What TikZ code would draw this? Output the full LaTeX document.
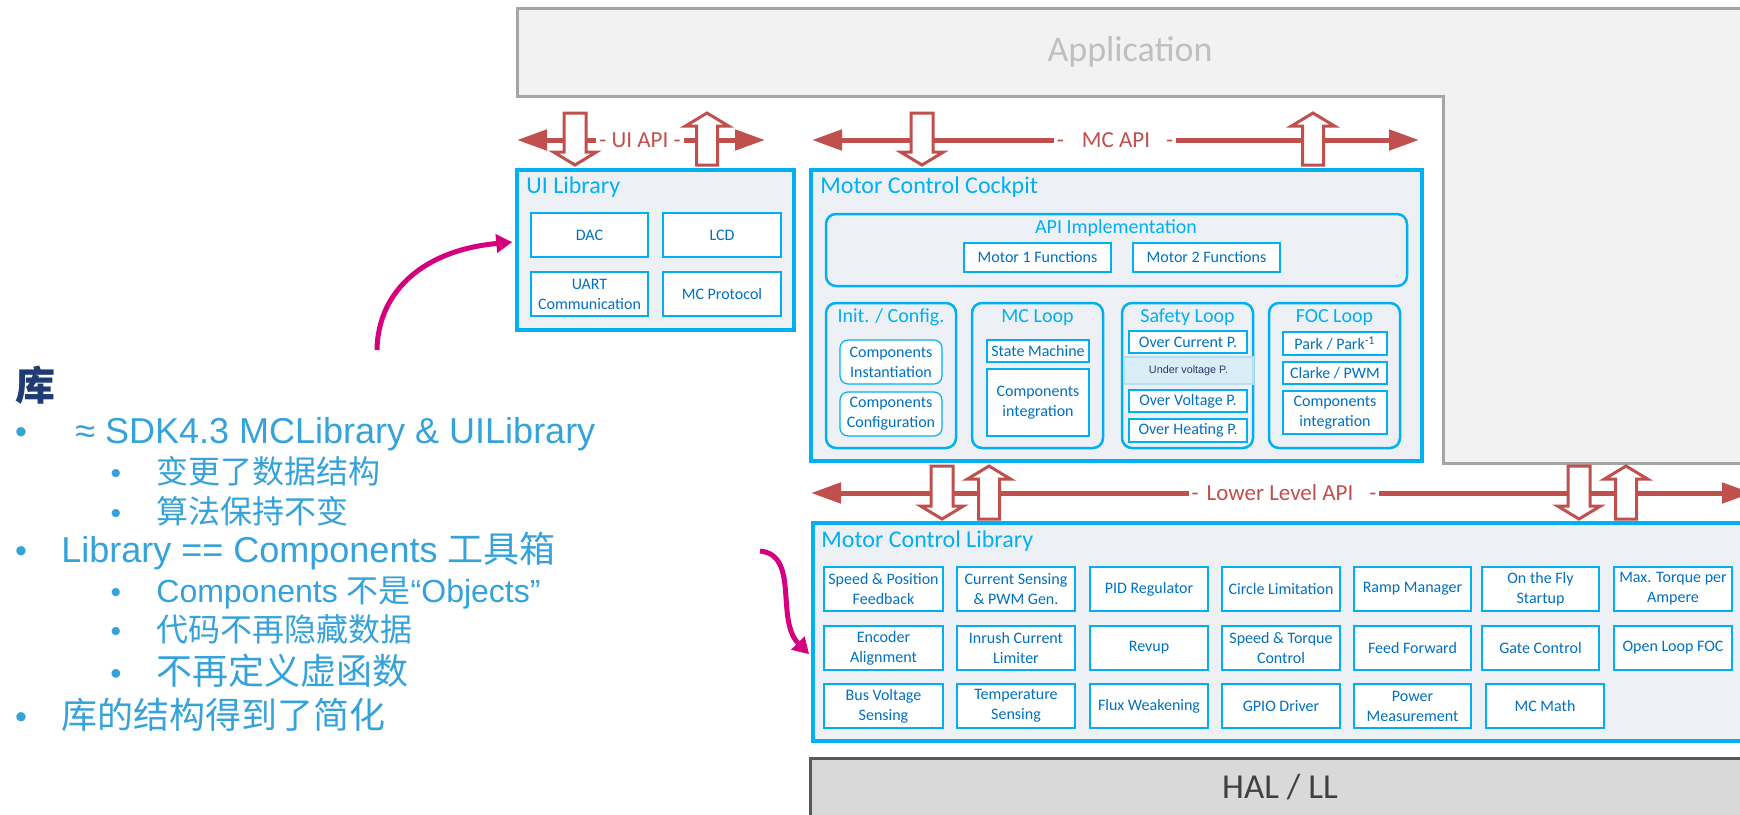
\documentclass[tikz,border=0pt]{standalone}
\usepackage{fontspec}
\setmainfont{Carlito}
\newfontfamily\arialf{Liberation Sans}
\newfontfamily\cjk{Noto Sans CJK SC}
\usetikzlibrary{arrows.meta,calc}

\definecolor{cyanline}{RGB}{0,176,240}
\definecolor{boxtext}{RGB}{0,112,192}
\definecolor{panel}{RGB}{237,241,246}
\definecolor{apired}{RGB}{192,80,77}
\definecolor{appfill}{RGB}{242,242,242}
\definecolor{appline}{RGB}{166,166,166}
\definecolor{apptext}{RGB}{191,191,191}
\definecolor{halfill}{RGB}{217,217,217}
\definecolor{halline}{RGB}{89,89,89}
\definecolor{haltext}{RGB}{64,64,64}
\definecolor{notetext}{RGB}{53,163,218}
\definecolor{notehead}{RGB}{31,59,115}
\definecolor{pointer}{RGB}{214,0,127}
\definecolor{uvfill}{RGB}{218,238,247}
\definecolor{uvline}{RGB}{184,222,240}
\definecolor{uvtext}{RGB}{40,60,100}

% hollow block arrows: centre x, top y, tip y
\newcommand{\hollowdown}[3]{%
  \draw[hollow] (#1-11,#2) -- (#1+11,#2) -- (#1+11,#3-13) -- (#1+21.5,#3-13)
    -- (#1,#3) -- (#1-21.5,#3-13) -- (#1-11,#3-13) -- cycle;}
% centre x, tip y, bottom y
\newcommand{\hollowup}[3]{%
  \draw[hollow] (#1,#2) -- (#1+21.5,#2+13) -- (#1+10.5,#2+13) -- (#1+10.5,#3)
    -- (#1-10.5,#3) -- (#1-10.5,#2+13) -- (#1-21.5,#2+13) -- cycle;}
% box node spanning two corners: style, x1, y1, x2, y2, name; text follows
\newcommand{\boxnode}[6]{%
  \node[#1, minimum width={(#4-#2)*0.5pt}, minimum height={(#5-#3)*0.5pt}]
    (#6) at ({(#2+#4)/2},{(#3+#5)/2})}

\tikzset{
  layer/.style={draw=cyanline, line width=1.75pt, fill=panel, inner sep=0pt},
  group/.style={draw=cyanline, line width=1.25pt, fill=panel, rounded corners=5pt, inner sep=0pt},
  cell/.style={draw=cyanline, line width=0.6pt, fill=white, inner sep=0pt, text=boxtext,
    align=center, font=\fontsize{8}{10}\selectfont},
  rcell/.style={cell, rounded corners=4pt},
  layertitle/.style={anchor=base west, text=cyanline, font=\fontsize{12}{14}\selectfont, inner sep=0pt},
  grouptitle/.style={anchor=base, text=cyanline, font=\fontsize{10}{12}\selectfont, inner sep=0pt},
  apiline/.style={draw=apired, line width=2.5pt,
    {Triangle[length=15pt,width=10pt]}-{Triangle[length=15pt,width=10pt]}},
  apilabel/.style={fill=white, text=apired, font=\fontsize{11.5}{13}\selectfont, inner sep=1.5pt},
  hollow/.style={draw=apired, line width=1.5pt, fill=white, line join=miter},
  pointerarrow/.style={draw=pointer, line width=2.5pt, -{Triangle[length=8pt,width=9pt]}},
  note/.style={anchor=base west, inner sep=0pt, text=notetext},
  dot/.style={anchor=base, inner sep=0pt, text=notetext},
}

\begin{document}
\begin{tikzpicture}[x=0.5pt, y=-0.5pt]
\useasboundingbox (0,0) rectangle (1740,814);
\clip (0,0) rectangle (1740,814);
\fill[white] (0,0) rectangle (1740,814);

% ---- application layer (L-shaped) ----
\draw[appline, fill=appfill, line width=1.5pt]
  (517,8) -- (1760,8) -- (1760,463) -- (1443,463) -- (1443,96) -- (517,96) -- cycle;
\node[anchor=base, text=apptext, font=\fontsize{18}{22}\selectfont, inner sep=0pt]
  (app) at (1130,61) {Application};

% ---- API lines ----
\coordinate (uiL) at (517,140);
\coordinate (uiR) at (765,140);
\draw[apiline] (uiL) -- (uiR);
\node[apilabel] (uiapi) at (640,140) {- UI API -};

\coordinate (mcL) at (812,140);
\coordinate (mcR) at (1419,140);
\draw[apiline] (mcL) -- (mcR);
\node[apilabel] (mcapi) at (1115,140) {-\hspace{9pt}MC API\hspace{8pt}-};

\coordinate (llL) at (811,493);
\coordinate (llR) at (1752,493);
\draw[apiline] (llL) -- (llR);
\node[apilabel] (llapi) at (1284,493) {-\hspace{4pt}Lower Level API\hspace{8pt}-};

\hollowdown{575}{113}{165}
\hollowup{707}{113}{165}
\hollowdown{922}{113}{165}
\hollowup{1313}{113}{165}
\hollowdown{942}{466}{519}
\hollowup{989}{466}{519}
\hollowdown{1579}{466}{519}
\hollowup{1626}{466}{519}

% ---- UI library ----
\boxnode{layer}{517}{170}{794}{330}{uilib} {};
\node[layertitle] (uititle) at (526,193) {UI Library};
\boxnode{cell}{531}{213}{648}{257}{dac} {DAC};
\boxnode{cell}{663}{213}{781}{257}{lcd} {LCD};
\boxnode{cell}{531}{272}{648}{316}{uart} {UART\\Communication};
\boxnode{cell}{663}{272}{781}{316}{mcprot} {MC Protocol};

% ---- motor control cockpit ----
\boxnode{layer}{811}{170}{1422}{461}{mcc} {};
\node[layertitle] (mcctitle) at (820,193) {Motor Control Cockpit};

\boxnode{group}{826}{214}{1407}{286}{apiimpl} {};
\node[grouptitle] at (1116,233) {API Implementation};
\boxnode{cell}{964}{243}{1111}{272}{m1f} {Motor 1 Functions};
\boxnode{cell}{1133}{243}{1280}{272}{m2f} {Motor 2 Functions};

\boxnode{group}{826}{303}{956}{448}{init} {};
\node[grouptitle] at (891,322) {Init. / Config.};
\boxnode{rcell}{840}{340}{942}{384}{cinst} {Components\\Instantiation};
\boxnode{rcell}{840}{392}{942}{436}{cconf} {Components\\Configuration};

\boxnode{group}{972}{303}{1103}{448}{mcloop} {};
\node[grouptitle] at (1037.5,322) {MC Loop};
\boxnode{cell}{987}{340}{1089}{362}{sm} {State Machine};
\boxnode{cell}{987}{369}{1089}{436}{mcint} {Components\\integration};

\boxnode{group}{1122}{303}{1253}{448}{safety} {};
\node[grouptitle] at (1187.5,322) {Safety Loop};
\boxnode{cell}{1129}{331}{1247}{353}{ocp} {Over Current P.};
\boxnode{cell, fill=uvfill, draw=uvline, text=uvtext,
  font=\arialf\fontsize{5.4}{6}\selectfont}{1124}{357}{1253}{384}{uvp} {Under voltage P.};
\boxnode{cell}{1129}{390}{1247}{412}{ovp} {Over Voltage P.};
\boxnode{cell}{1129}{419}{1247}{442}{ohp} {Over Heating P.};

\boxnode{group}{1269}{303}{1400}{448}{foc} {};
\node[grouptitle] at (1334.5,322) {FOC Loop};
\boxnode{cell}{1283}{332}{1387}{355}{park} {Park / Park\textsuperscript{-1}};
\boxnode{cell}{1283}{362}{1387}{384}{clarke} {Clarke / PWM};
\boxnode{cell}{1283}{391}{1387}{434}{focint} {Components\\integration};

% ---- motor control library ----
\boxnode{layer}{813}{523}{1770}{741}{mcl} {};
\node[layertitle] (mcltitle) at (821,547) {Motor Control Library};

\boxnode{cell}{824}{567}{943}{611}{spf} {Speed \& Position\\Feedback};
\boxnode{cell}{957}{567}{1075}{611}{cs} {Current Sensing\\\& PWM Gen.};
\boxnode{cell}{1090}{567}{1208}{611}{pid} {PID Regulator};
\boxnode{cell}{1222}{567}{1340}{611}{circ} {Circle Limitation};
\boxnode{cell}{1354}{567}{1471}{611}{ramp} {Ramp Manager};
\boxnode{cell}{1482}{567}{1599}{611}{otf} {On the Fly\\Startup};
\boxnode{cell}{1614}{567}{1732}{611}{mtpa} {Max. Torque per\\Ampere};

\boxnode{cell}{824}{626}{943}{670}{enc} {Encoder\\Alignment};
\boxnode{cell}{957}{626}{1075}{670}{inrush} {Inrush Current\\Limiter};
\boxnode{cell}{1090}{626}{1208}{670}{revup} {Revup};
\boxnode{cell}{1222}{626}{1340}{670}{stc} {Speed \& Torque\\Control};
\boxnode{cell}{1354}{626}{1471}{670}{ff} {Feed Forward};
\boxnode{cell}{1482}{626}{1599}{670}{gate} {Gate Control};
\boxnode{cell}{1614}{626}{1732}{670}{olfoc} {Open Loop FOC};

\boxnode{cell}{824}{684}{943}{728}{bus} {Bus Voltage\\Sensing};
\boxnode{cell}{957}{684}{1075}{728}{temp} {Temperature\\Sensing};
\boxnode{cell}{1090}{684}{1208}{728}{flux} {Flux Weakening};
\boxnode{cell}{1222}{684}{1340}{728}{gpio} {GPIO Driver};
\boxnode{cell}{1354}{684}{1471}{728}{pwr} {Power\\Measurement};
\boxnode{cell}{1486}{684}{1604}{728}{math} {MC Math};

% ---- hardware abstraction ----
\boxnode{draw=halline, fill=halfill, line width=1.5pt, inner sep=0pt}{810}{758}{1770}{830}{hal} {};
\node[anchor=base, text=haltext, font=\fontsize{17.5}{20}\selectfont, inner sep=0pt] at (1280,798) {HAL / LL};

% ---- notes on the left ----
\node[note, text=notehead, font=\cjk\bfseries\fontsize{20}{24}\selectfont] (head) at (15,400) {库};

\node[dot, font=\arialf\fontsize{17}{22}\selectfont] at (21,443) {•};
\node[note, font=\arialf\fontsize{18}{22}\selectfont] (l1) at (75,443) {≈ SDK4.3 MCLibrary \& UILibrary};
\node[dot, font=\arialf\fontsize{15}{20}\selectfont] at (116,483) {•};
\node[note, font=\cjk\fontsize{16}{20}\selectfont] (l2) at (156,483) {变更了数据结构};
\node[dot, font=\arialf\fontsize{15}{20}\selectfont] at (116,523) {•};
\node[note, font=\cjk\fontsize{16}{20}\selectfont] (l3) at (156,523) {算法保持不变};
\node[dot, font=\arialf\fontsize{17}{22}\selectfont] at (21,562) {•};
\node[note, font=\fontsize{18}{22}\selectfont] (l4) at (61,562) {\arialf Library == Components {\cjk 工具箱}};
\node[dot, font=\arialf\fontsize{15}{20}\selectfont] at (116,602) {•};
\node[note, font=\fontsize{16}{20}\selectfont] (l5) at (156,602) {\arialf Components {\cjk 不是}“Objects”};
\node[dot, font=\arialf\fontsize{15}{20}\selectfont] at (116,641) {•};
\node[note, font=\cjk\fontsize{16}{20}\selectfont] (l6) at (156,641) {代码不再隐藏数据};
\node[dot, font=\arialf\fontsize{16}{22}\selectfont] at (116,684) {•};
\node[note, font=\cjk\fontsize{18}{22}\selectfont] (l7) at (156,684) {不再定义虚函数};
\node[dot, font=\arialf\fontsize{17}{22}\selectfont] at (21,728) {•};
\node[note, font=\cjk\fontsize{18}{22}\selectfont] (l8) at (61,728) {库的结构得到了简化};

% ---- pointers ----
\coordinate (p1) at (377,350);
\draw[pointerarrow, shorten >=1.5pt] (p1) .. controls (378,290) and (425,250) ..
  ($(uilib.north west)!0.45!(uilib.south west)$);
\coordinate (p2) at (760,551);
\draw[pointerarrow, shorten >=1.5pt] (p2) .. controls (800,555) and (775,620) ..
  ($(mcl.north west)!0.61!(mcl.south west)$);
\end{tikzpicture}
\end{document}
